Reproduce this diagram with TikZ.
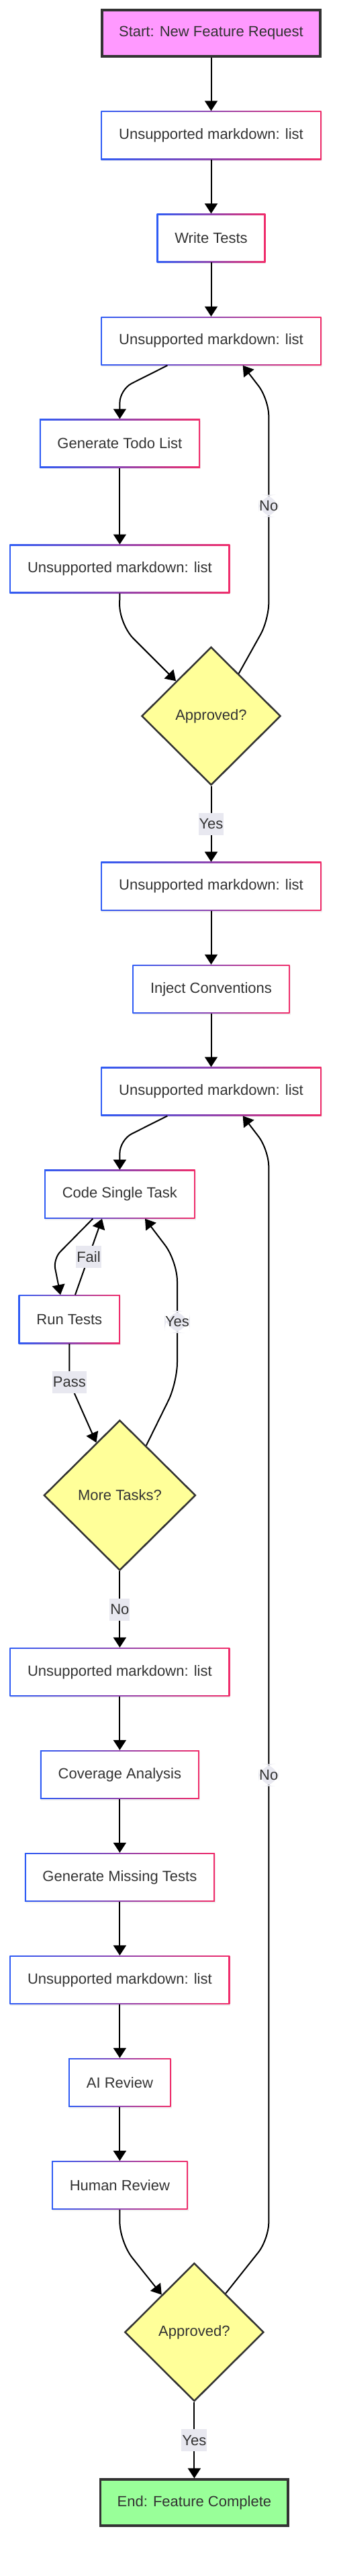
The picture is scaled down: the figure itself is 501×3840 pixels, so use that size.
\documentclass[tikz,border=0pt]{standalone}
\usepackage{fontspec}
\setmainfont{Liberation Sans}
\usetikzlibrary{arrows.meta,shapes.geometric,calc,shadows}
\definecolor{gblue}{HTML}{2F5CF5}
\definecolor{gred}{HTML}{F02D6B}
\definecolor{txt}{HTML}{333333}
\definecolor{lblbg}{HTML}{E8E8F0}
\definecolor{startfill}{HTML}{FF99FF}
\definecolor{endfill}{HTML}{99FF99}
\definecolor{decfill}{HTML}{FFFF99}
\newcommand\nodefont{\fontsize{22}{26}\selectfont}
\tikzset{
  softshadow/.style={drop shadow={shadow xshift=1pt,shadow yshift=-2pt,opacity=0.12}},
  box/.style={rectangle, minimum height=72.6pt, inner xsep=26.7pt, inner ysep=0pt,
    text=txt, font=\nodefont, fill=white, softshadow,
    path picture={
      \shade[left color=gblue,right color=gred]
        (path picture bounding box.south west) rectangle (path picture bounding box.north east);
      \fill[white] ($(path picture bounding box.south west)+(2pt,2pt)$) rectangle
        ($(path picture bounding box.north east)+(-2pt,-2pt)$);
    }},
  term/.style={rectangle, draw=txt, line width=3.5pt, minimum height=69pt,
    inner xsep=25pt, inner ysep=0pt, text=txt, font=\nodefont, softshadow},
  dec/.style={diamond, draw=txt, fill=decfill, line width=2.5pt, inner sep=0pt,
    text=txt, font=\nodefont, softshadow},
  lbl/.style={fill=lblbg, inner xsep=1pt, inner ysep=0pt, minimum height=33pt,
    text=txt, font=\nodefont},
  arr/.style={-{Triangle[width=19pt,length=15pt]}, line width=2pt, black},
}
\begin{document}
\begin{tikzpicture}[x=1pt,y=-1pt]
\useasboundingbox (0,0) rectangle (501,3840);

% nodes
\node[term, fill=startfill] (start) at (314.5,49.4) {Start: New Feature Request};
\node[box] (l1)  at (314.5,201.8)  {Unsupported markdown: list};
\node[box] (wt)  at (314.5,354.9)  {Write Tests};
\node[box] (l2)  at (314.5,508.3)  {Unsupported markdown: list};
\node[box] (gtl) at (178.4,661.0)  {Generate Todo List};
\node[box] (l3)  at (178.4,848.0)  {Unsupported markdown: list};
\node[dec, minimum width=207pt, minimum height=206pt] (d1) at (314.5,1067.4) {Approved?};
\node[box] (l4)  at (314.5,1321.2) {Unsupported markdown: list};
\node[box] (ic)  at (314.5,1474.3) {Inject Conventions};
\node[box] (l5)  at (314.5,1627.0) {Unsupported markdown: list};
\node[box] (cst) at (178.4,1780.2) {Code Single Task};
\node[box] (rt)  at (103.3,1966.7) {Run Tests};
\node[dec, minimum width=226pt, minimum height=224pt] (d2) at (178.4,2229.0) {More Tasks?};
\node[box] (l6)  at (178.4,2492.4) {Unsupported markdown: list};
\node[box] (ca)  at (178.4,2645.3) {Coverage Analysis};
\node[box] (gmt) at (178.4,2798.3) {Generate Missing Tests};
\node[box] (l7)  at (178.4,2951.4) {Unsupported markdown: list};
\node[box] (air) at (178.4,3104.3) {AI Review};
\node[box] (hr)  at (178.4,3257.6) {Human Review};
\node[dec, minimum width=207pt, minimum height=206pt] (d3) at (289.4,3476.5) {Approved?};
\node[term, fill=endfill] (end) at (289.4,3730.6) {End: Feature Complete};

% bend points
\coordinate (noA1) at (400.3,924);
\coordinate (noA2) at (400.3,595);
\coordinate (noB1) at (400.3,3338);
\coordinate (noB2) at (400.3,1714);
\coordinate (loopL) at (79.3,1876.5);
\coordinate (passC) at (103.3,2060);
\coordinate (yesB1) at (264,2061);
\coordinate (yesB2) at (264,1880);

% edges
\draw[arr] (start.south) -- (l1.north);
\draw[arr] (l1.south) -- (wt.north);
\draw[arr] (wt.south) -- (l2.north);
\draw[arr, rounded corners=20pt] ([xshift=-65.2pt]l2.south) -- ($(gtl.north)+(0,-44)$) -- (gtl.north);
\draw[arr] (gtl.south) -- (l3.north);
\draw[arr, rounded corners=30pt] (l3.south) -- ($(d1.north west)+(-84.4,-84.4)$) -- (d1.north west);
\draw[arr, rounded corners=25pt] (d1.57) -- (noA1) -- node[lbl, pos=0.516] {No} (noA2) -- ([xshift=47.2pt]l2.south);
\draw[arr] (d1.south) -- node[lbl] {Yes} (l4.north);
\draw[arr] (l4.south) -- (ic.north);
\draw[arr] (ic.south) -- (l5.north);
\draw[arr, rounded corners=20pt] ([xshift=-65.2pt]l5.south) -- ($(cst.north)+(0,-44.6)$) -- (cst.north);
\draw[arr, rounded corners=15pt] ([xshift=-40.1pt]cst.south) -- (loopL) -- ([xshift=-13.3pt]rt.north);
\draw[arr] ([xshift=8.7pt]rt.north) -- node[lbl] {Fail} ([xshift=-26.4pt]cst.south);
\draw[arr] (rt.south) -- (passC) node[lbl] {Pass} -- (d2.114);
\draw[arr, rounded corners=30pt] (d2.62) -- (yesB1) -- node[lbl] {Yes} (yesB2) -- ([xshift=37.6pt]cst.south);
\draw[arr] (d2.south) -- node[lbl] {No} (l6.north);
\draw[arr] (l6.south) -- (ca.north);
\draw[arr] (ca.south) -- (gmt.north);
\draw[arr] (gmt.south) -- (l7.north);
\draw[arr] (l7.south) -- (air.north);
\draw[arr] (air.south) -- (hr.north);
\draw[arr, rounded corners=30pt] (hr.south) -- ($(hr.south |- d3.north)+(0,-30)$) -- (d3.131);
\draw[arr, rounded corners=25pt] (d3.51) -- (noB1) -- node[lbl, pos=0.426] {No} (noB2) -- ([xshift=47.2pt]l5.south);
\draw[arr] (d3.south) -- node[lbl] {Yes} (end.north);
\end{tikzpicture}
\end{document}
